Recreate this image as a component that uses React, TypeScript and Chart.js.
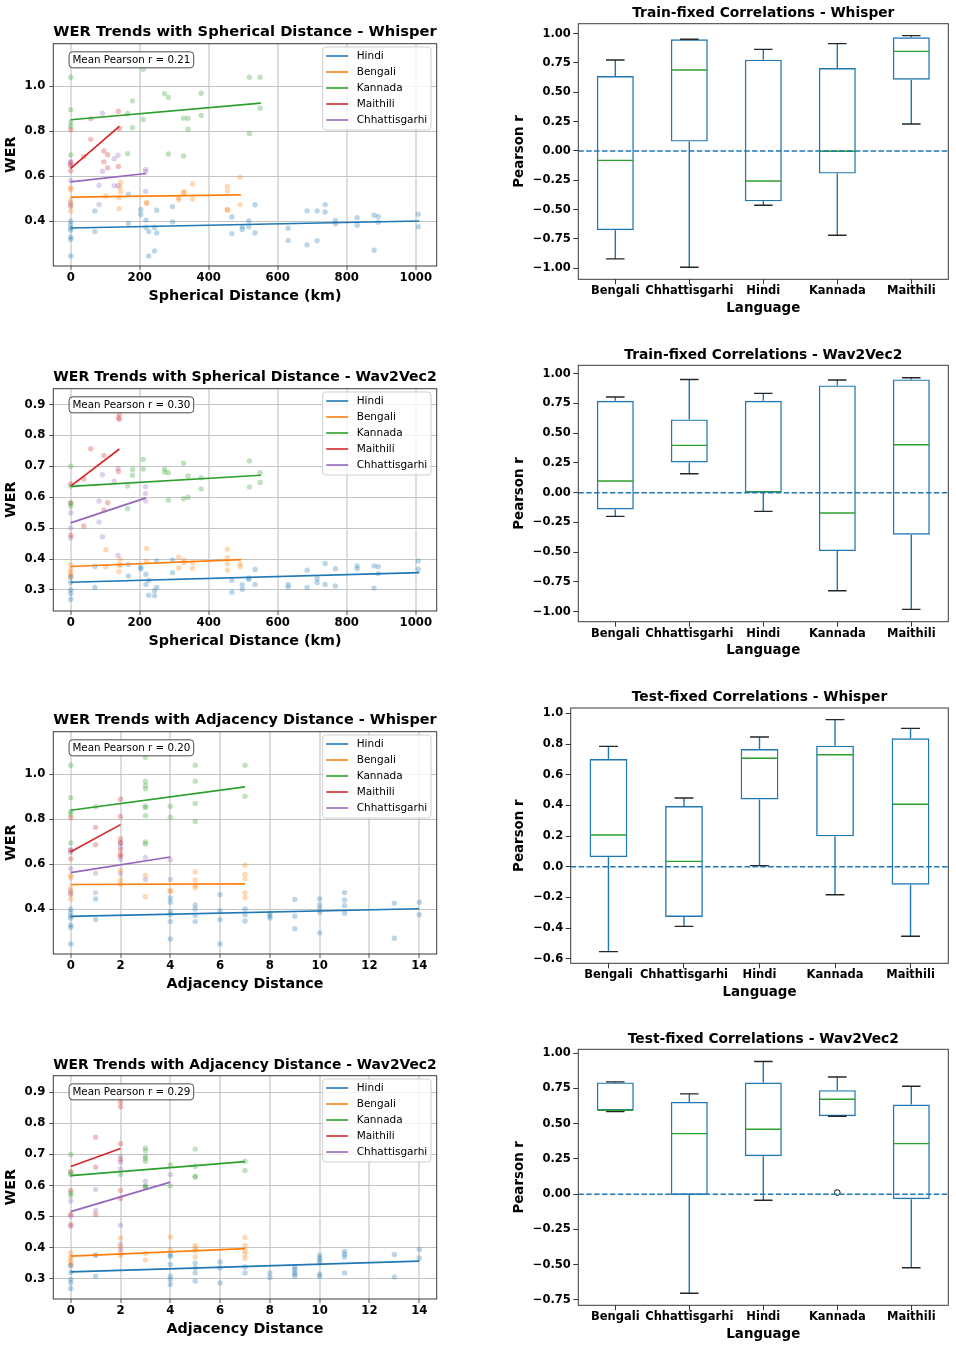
import React, { useEffect, useRef } from 'react';
import { Chart, registerables } from 'chart.js';

Chart.register(...registerables);

type Pt = [number, number];

const FONT = "'DejaVu Sans', sans-serif";

// ---------- shared labels ----------
const languages = ['Hindi', 'Bengali', 'Kannada', 'Maithili', 'Chhattisgarhi'];
const langColors = ['#1f77b4', '#ff7f0e', '#2ca02c', '#d62728', '#9467bd'];
const langColorsFaint = [
  'rgba(31,119,180,0.3)',
  'rgba(255,127,14,0.3)',
  'rgba(44,160,44,0.3)',
  'rgba(214,39,40,0.3)',
  'rgba(148,103,189,0.3)',
];
const boxCategories = ['Bengali', 'Chhattisgarhi', 'Hindi', 'Kannada', 'Maithili'];

// ---------- Spherical distance / Whisper ----------
const sphWhisperHindi: Pt[] = [[0, 0.40], [0, 0.385], [0, 0.37], [0, 0.36], [0, 0.33], [0, 0.32], [0, 0.246], [70, 0.446], [70, 0.354], [167, 0.39], [167, 0.52], [203, 0.452], [203, 0.43], [218, 0.405], [218, 0.372], [226, 0.354], [226, 0.246], [243, 0.268], [243, 0.372], [249, 0.449], [249, 0.348], [295, 0.465], [295, 0.397], [467, 0.419], [467, 0.345], [497, 0.376], [497, 0.363], [516, 0.401], [516, 0.375], [534, 0.473], [534, 0.348], [630, 0.369], [630, 0.314], [685, 0.446], [685, 0.295], [714, 0.446], [714, 0.313], [737, 0.474], [737, 0.441], [767, 0.404], [767, 0.388], [830, 0.416], [830, 0.382], [879, 0.427], [879, 0.271], [891, 0.421], [891, 0.396], [1007, 0.431], [1007, 0.376]];
const sphWhisperBengali: Pt[] = [[0, 0.55], [0, 0.54], [0, 0.492], [0, 0.471], [0, 0.446], [102, 0.512], [140, 0.456], [140, 0.505], [143, 0.55], [145, 0.572], [145, 0.53], [220, 0.483], [220, 0.479], [313, 0.505], [313, 0.495], [328, 0.53], [328, 0.528], [353, 0.566], [353, 0.499], [454, 0.555], [454, 0.535], [454, 0.452], [454, 0.449], [491, 0.596], [491, 0.474]];
const sphWhisperKannada: Pt[] = [[0, 1.04], [0, 0.896], [0, 0.84], [0, 0.822], [0, 0.695], [165, 0.879], [165, 0.70], [179, 0.935], [179, 0.816], [210, 1.075], [210, 0.852], [272, 0.967], [283, 0.95], [283, 0.699], [327, 0.858], [327, 0.69], [340, 0.858], [340, 0.809], [378, 0.969], [378, 0.87], [518, 1.04], [518, 0.79], [549, 1.04], [549, 0.902]];
const sphWhisperMaithili: Pt[] = [[0, 0.807], [0, 0.66], [0, 0.624], [0, 0.645], [38, 0.687], [58, 0.856], [58, 0.764], [96, 0.712], [96, 0.664], [107, 0.696], [107, 0.637], [138, 0.889], [141, 0.812], [138, 0.643]];
const sphWhisperChhattisgarhi: Pt[] = [[0, 0.665], [0, 0.653], [0, 0.58], [0, 0.48], [0, 0.467], [82, 0.56], [82, 0.474], [92, 0.88], [92, 0.622], [126, 0.678], [126, 0.558], [137, 0.693], [137, 0.558], [217, 0.63], [217, 0.62], [217, 0.532]];
// regression fits: [xStart, yStart, xEnd, yEnd] per language
const sphWhisperFits = [[0, 0.370, 1010, 0.401], [0, 0.507, 493, 0.517], [0, 0.851, 551, 0.925], [0, 0.635, 141, 0.822], [0, 0.575, 218, 0.612]];

// ---------- Spherical distance / Wav2Vec2 ----------
const sphW2vHindi: Pt[] = [[0, 0.342], [0, 0.324], [0, 0.30], [0, 0.289], [0, 0.27], [70, 0.376], [70, 0.308], [167, 0.382], [167, 0.345], [203, 0.374], [203, 0.368], [218, 0.351], [218, 0.318], [226, 0.331], [226, 0.283], [243, 0.297], [243, 0.281], [249, 0.394], [249, 0.308], [295, 0.397], [295, 0.356], [467, 0.331], [467, 0.293], [497, 0.317], [497, 0.302], [516, 0.339], [516, 0.334], [534, 0.366], [534, 0.318], [630, 0.318], [630, 0.309], [685, 0.364], [685, 0.308], [714, 0.337], [714, 0.324], [737, 0.386], [737, 0.318], [767, 0.369], [767, 0.313], [830, 0.378], [830, 0.369], [879, 0.378], [879, 0.306], [891, 0.375], [891, 0.353], [1007, 0.394], [1007, 0.367]];
const sphW2vBengali: Pt[] = [[0, 0.382], [0, 0.367], [0, 0.357], [0, 0.349], [0, 0.342], [102, 0.43], [102, 0.375], [140, 0.36], [140, 0.382], [143, 0.399], [143, 0.38], [220, 0.434], [220, 0.393], [313, 0.407], [313, 0.371], [328, 0.397], [328, 0.388], [353, 0.388], [353, 0.37], [454, 0.432], [454, 0.404], [454, 0.385], [454, 0.364], [491, 0.385], [491, 0.375]];
const sphW2vKannada: Pt[] = [[0, 0.70], [0, 0.58], [0, 0.571], [0, 0.636], [165, 0.636], [165, 0.563], [179, 0.69], [179, 0.671], [210, 0.722], [210, 0.691], [272, 0.691], [272, 0.681], [283, 0.679], [283, 0.59], [327, 0.71], [327, 0.595], [340, 0.668], [340, 0.60], [378, 0.663], [378, 0.627], [518, 0.717], [518, 0.633], [549, 0.679], [549, 0.648]];
const sphW2vMaithili: Pt[] = [[0, 0.644], [0, 0.582], [0, 0.477], [38, 0.659], [38, 0.507], [58, 0.757], [58, 0.884], [96, 0.735], [96, 0.559], [107, 0.582], [138, 0.857], [141, 0.868], [141, 0.852], [138, 0.683]];
const sphW2vChhattisgarhi: Pt[] = [[0, 0.55], [0, 0.501], [0, 0.468], [82, 0.588], [82, 0.52], [92, 0.673], [92, 0.472], [126, 0.652], [137, 0.693], [137, 0.412], [217, 0.634], [217, 0.612], [217, 0.588]];
const sphW2vFits = [[0, 0.325, 1010, 0.356], [0, 0.376, 493, 0.398], [0, 0.635, 551, 0.671], [0, 0.636, 141, 0.756], [0, 0.517, 218, 0.598]];

// ---------- Adjacency distance / Whisper ----------
const adjWhisperHindi: Pt[] = [[0, 0.40], [0, 0.385], [0, 0.37], [0, 0.36], [0, 0.33], [0, 0.32], [0, 0.246], [1, 0.446], [1, 0.354], [4, 0.45], [4, 0.431], [4, 0.39], [4, 0.376], [4, 0.345], [4, 0.268], [5, 0.419], [5, 0.401], [5, 0.372], [5, 0.345], [6, 0.465], [6, 0.394], [6, 0.354], [6, 0.246], [7, 0.401], [7, 0.376], [7, 0.348], [8, 0.381], [8, 0.37], [8, 0.361], [9, 0.443], [9, 0.369], [9, 0.313], [10, 0.446], [10, 0.419], [10, 0.401], [10, 0.387], [10, 0.295], [11, 0.474], [11, 0.441], [11, 0.416], [11, 0.382], [13, 0.427], [13, 0.271], [14, 0.431], [14, 0.376]];
const adjWhisperBengali: Pt[] = [[0, 0.55], [0, 0.54], [0, 0.492], [0, 0.471], [0, 0.446], [2, 0.572], [2, 0.53], [2, 0.51], [3, 0.55], [3, 0.456], [4, 0.483], [4, 0.479], [5, 0.566], [5, 0.53], [5, 0.505], [5, 0.495], [7, 0.596], [7, 0.555], [7, 0.535], [7, 0.474], [7, 0.452]];
const adjWhisperKannada: Pt[] = [[0, 1.04], [0, 0.896], [0, 0.835], [0, 0.822], [0, 0.695], [1, 0.856], [3, 1.075], [3, 0.969], [3, 0.95], [3, 0.935], [3, 0.858], [3, 0.852], [3, 0.816], [3, 0.699], [3, 0.69], [4, 0.858], [4, 0.809], [5, 1.04], [5, 0.969], [5, 0.87], [5, 0.79], [7, 1.04], [7, 0.902]];
const adjWhisperMaithili: Pt[] = [[0, 0.807], [0, 0.66], [0, 0.624], [1, 0.764], [1, 0.687], [2, 0.889], [2, 0.812], [2, 0.712], [2, 0.696], [2, 0.664], [2, 0.643], [2, 0.637]];
const adjWhisperChhattisgarhi: Pt[] = [[0, 0.665], [0, 0.653], [0, 0.58], [0, 0.48], [0, 0.467], [1, 0.56], [1, 0.474], [2, 0.678], [2, 0.693], [2, 0.622], [2, 0.558], [3, 0.63], [3, 0.532], [4, 0.62], [4, 0.532]];
const adjWhisperFits = [[0, 0.368, 14, 0.402], [0, 0.510, 7, 0.513], [0, 0.840, 7, 0.944], [0, 0.655, 2, 0.776], [0, 0.563, 4, 0.632]];

// ---------- Adjacency distance / Wav2Vec2 ----------
const adjW2vHindi: Pt[] = [[0, 0.343], [0, 0.321], [0, 0.298], [0, 0.287], [0, 0.269], [1, 0.376], [1, 0.308], [4, 0.378], [4, 0.372], [4, 0.346], [4, 0.308], [4, 0.298], [4, 0.282], [5, 0.351], [5, 0.335], [5, 0.319], [5, 0.293], [6, 0.354], [6, 0.335], [6, 0.287], [7, 0.338], [7, 0.319], [8, 0.319], [8, 0.304], [9, 0.337], [9, 0.33], [9, 0.321], [9, 0.315], [9, 0.308], [10, 0.376], [10, 0.367], [10, 0.36], [10, 0.351], [10, 0.315], [10, 0.308], [11, 0.388], [11, 0.379], [11, 0.37], [11, 0.319], [13, 0.378], [13, 0.306], [14, 0.394], [14, 0.367]];
const adjW2vBengali: Pt[] = [[0, 0.383], [0, 0.369], [0, 0.36], [0, 0.351], [0, 0.343], [1, 0.376], [2, 0.431], [2, 0.403], [2, 0.383], [2, 0.375], [3, 0.382], [3, 0.36], [4, 0.434], [4, 0.394], [5, 0.407], [5, 0.398], [5, 0.39], [5, 0.37], [7, 0.433], [7, 0.407], [7, 0.39], [7, 0.38], [7, 0.366]];
const adjW2vKannada: Pt[] = [[0, 0.70], [0, 0.64], [0, 0.635], [0, 0.576], [0, 0.568], [2, 0.635], [3, 0.721], [3, 0.712], [3, 0.694], [3, 0.687], [3, 0.678], [3, 0.598], [3, 0.594], [4, 0.666], [4, 0.598], [5, 0.717], [5, 0.662], [5, 0.63], [5, 0.627], [7, 0.678], [7, 0.648]];
const adjW2vMaithili: Pt[] = [[0, 0.645], [0, 0.584], [0, 0.507], [0, 0.474], [1, 0.755], [1, 0.659], [1, 0.507], [2, 0.884], [2, 0.868], [2, 0.853], [2, 0.734], [2, 0.683], [2, 0.584], [2, 0.558]];
const adjW2vChhattisgarhi: Pt[] = [[0, 0.55], [0, 0.501], [0, 0.469], [1, 0.587], [1, 0.52], [2, 0.694], [2, 0.675], [2, 0.653], [2, 0.472], [2, 0.411], [2, 0.394], [3, 0.614], [3, 0.598], [4, 0.635]];
const adjW2vFits = [[0, 0.322, 14, 0.357], [0, 0.373, 7, 0.397], [0, 0.632, 7, 0.677], [0, 0.661, 2, 0.719], [0, 0.516, 4, 0.611]];

// ---------- Box plot statistics (order: boxCategories) ----------
const trainWhisperLow = [-0.920, -0.991, -0.463, -0.719, 0.230];
const trainWhisperQ1 = [-0.676, 0.080, -0.429, -0.193, 0.608];
const trainWhisperMedian = [-0.080, 0.690, -0.256, -0.003, 0.849];
const trainWhisperQ3 = [0.639, 0.952, 0.778, 0.707, 0.969];
const trainWhisperHigh = [0.776, 0.952, 0.866, 0.915, 0.983];

const trainW2vLow = [-0.199, 0.160, -0.157, -0.824, -0.980];
const trainW2vQ1 = [-0.140, 0.255, 0.003, -0.490, -0.353];
const trainW2vMedian = [0.098, 0.398, 0.006, -0.171, 0.403];
const trainW2vQ3 = [0.773, 0.616, 0.773, 0.902, 0.952];
const trainW2vHigh = [0.804, 0.952, 0.835, 0.947, 0.966];

const testWhisperLow = [-0.554, -0.389, 0.007, -0.183, -0.454];
const testWhisperQ1 = [0.063, -0.328, 0.439, 0.198, -0.117];
const testWhisperMedian = [0.207, 0.035, 0.707, 0.730, 0.407];
const testWhisperQ3 = [0.702, 0.396, 0.767, 0.789, 0.837];
const testWhisperHigh = [0.785, 0.448, 0.846, 0.959, 0.902];

const testW2vLow = [0.587, -0.702, -0.043, 0.553, -0.522];
const testW2vQ1 = [0.594, -0.005, 0.270, 0.553, -0.035];
const testW2vMedian = [0.596, 0.430, 0.461, 0.674, 0.359];
const testW2vQ3 = [0.793, 0.655, 0.792, 0.738, 0.636];
const testW2vHigh = [0.797, 0.712, 0.941, 0.832, 0.766];
const testW2vOutliers: Pt[] = [[3, 0.012]]; // [category index, value]

// ---------- helpers ----------
const fmt = (v: number, d: number) => (v < -1e-9 ? '\u2212' : '') + Math.abs(v).toFixed(d);

type Geo = { plotL: number; plotR: number; plotT: number; plotB: number; titleY: number };

const DY = 1; // global vertical nudge

function frame(side: 'left' | 'right', g0: Geo, yTitleX: number) {
  const g = { ...g0, plotT: g0.plotT + DY, plotB: g0.plotB + DY, titleY: g0.titleY + DY };
  const isLeft = side === 'left';
  const titleSize = isLeft ? 14.7 : 13.8;
  const axisSize = isLeft ? 14.3 : 13.4;
  const tickSize = isLeft ? 11.7 : 11.5;
  const titleLH = titleSize * 1.2;
  const axisLH = axisSize * 1.2;
  const cx = isLeft ? 0 : 500;
  const cw = isLeft ? 445 : 456;
  const cy = Math.floor(g.titleY - titleLH / 2 - 2);
  const below = isLeft ? 45 : 40;
  const ch = Math.min(Math.ceil(g.plotB + below - cy), 1347 - cy);
  const xTitleY = g.plotB + (isLeft ? 30 : 29);
  return {
    rect: { x: cx, y: cy, w: cw, h: ch },
    titlePad: { top: g.titleY - titleLH / 2 - cy, bottom: g.plotT - g.titleY - titleLH / 2 },
    padRight: cx + cw - g.plotR,
    yWidth: g.plotL - cx,
    xHeight: cy + ch - g.plotB,
    xTitlePad: Math.max(0, cy + ch - xTitleY - axisLH / 2),
    yTitlePad: yTitleX - cx - axisLH / 2,
    titleSize,
    axisSize,
    tickSize,
  };
}

const framePlugin = {
  id: 'axesFrame',
  afterDraw(chart: any) {
    const { ctx, chartArea: a } = chart;
    ctx.save();
    ctx.strokeStyle = '#3a3a3a';
    ctx.lineWidth = 1;
    ctx.strokeRect(a.left, a.top, a.right - a.left, a.bottom - a.top);
    ctx.restore();
  },
};

const innerLegendPlugin = {
  id: 'innerLegend',
  afterDraw(chart: any) {
    const { ctx, chartArea: a } = chart;
    const items = chart.data.datasets.filter((d: any) => d.showLine);
    const bx = a.right - 114;
    const by = a.top + 3.3;
    const bw = 108.3;
    const bh = 83;
    ctx.save();
    ctx.beginPath();
    ctx.roundRect(bx, by, bw, bh, 3);
    ctx.fillStyle = 'rgba(255,255,255,0.8)';
    ctx.fill();
    ctx.strokeStyle = '#cfcfcf';
    ctx.lineWidth = 1;
    ctx.stroke();
    ctx.font = `10.5px ${FONT}`;
    ctx.textBaseline = 'middle';
    ctx.textAlign = 'left';
    items.forEach((d: any, i: number) => {
      const y = by + 9 + i * 16;
      ctx.beginPath();
      ctx.strokeStyle = d.borderColor;
      ctx.lineWidth = 1.6;
      ctx.moveTo(bx + 3.5, y);
      ctx.lineTo(bx + 25.5, y);
      ctx.stroke();
      ctx.fillStyle = '#000';
      ctx.fillText(d.label, bx + 34, y + 0.5);
    });
    ctx.restore();
  },
};

function meanPlugin(text: string) {
  return {
    id: 'meanBox',
    afterDraw(chart: any) {
      const { ctx, chartArea: a } = chart;
      const tx = a.left + 0.05 * (a.right - a.left);
      const ty = a.top + 0.05 * (a.bottom - a.top);
      ctx.save();
      ctx.font = `10.3px ${FONT}`;
      const w = ctx.measureText(text).width;
      ctx.beginPath();
      ctx.roundRect(tx - 3.4, ty - 3, w + 6.8, 16, 3.5);
      ctx.fillStyle = 'rgba(255,255,255,0.85)';
      ctx.fill();
      ctx.strokeStyle = '#4a4a4a';
      ctx.lineWidth = 1;
      ctx.stroke();
      ctx.fillStyle = '#000';
      ctx.textBaseline = 'middle';
      ctx.textAlign = 'left';
      ctx.fillText(text, tx, ty + 5.3);
      ctx.restore();
    },
  };
}

function boxPartsPlugin(low: number[], median: number[], high: number[], outliers: Pt[]) {
  return {
    id: 'boxParts',
    afterDatasetsDraw(chart: any) {
      const { ctx, chartArea: a, scales } = chart;
      const xs = scales.x;
      const ys = scales.y;
      const bars = chart.getDatasetMeta(0).data;
      const boxes = chart.data.datasets[0].data;
      ctx.save();
      bars.forEach((bar: any, i: number) => {
        const cx = xs.getPixelForValue(i);
        const half = bar.width / 2;
        const [q1, q3] = boxes[i];
        const yLow = ys.getPixelForValue(low[i]);
        const yHigh = ys.getPixelForValue(high[i]);
        const yQ1 = ys.getPixelForValue(q1);
        const yQ3 = ys.getPixelForValue(q3);
        const yMed = ys.getPixelForValue(median[i]);
        ctx.strokeStyle = '#1f77b4';
        ctx.lineWidth = 1.4;
        ctx.beginPath();
        ctx.moveTo(cx, yQ3);
        ctx.lineTo(cx, yHigh);
        ctx.moveTo(cx, yQ1);
        ctx.lineTo(cx, yLow);
        ctx.stroke();
        ctx.strokeStyle = '#262626';
        ctx.beginPath();
        ctx.moveTo(cx - half / 2, yHigh);
        ctx.lineTo(cx + half / 2, yHigh);
        ctx.moveTo(cx - half / 2, yLow);
        ctx.lineTo(cx + half / 2, yLow);
        ctx.stroke();
        ctx.strokeStyle = '#2ca02c';
        ctx.beginPath();
        ctx.moveTo(cx - half + 0.7, yMed);
        ctx.lineTo(cx + half - 0.7, yMed);
        ctx.stroke();
      });
      outliers.forEach(([ci, v]) => {
        ctx.beginPath();
        ctx.strokeStyle = '#000';
        ctx.lineWidth = 1;
        ctx.arc(xs.getPixelForValue(ci), ys.getPixelForValue(v), 2.8, 0, Math.PI * 2);
        ctx.stroke();
      });
      const y0 = ys.getPixelForValue(0);
      ctx.beginPath();
      ctx.setLineDash([5.5, 2.4]);
      ctx.strokeStyle = '#1f77b4';
      ctx.lineWidth = 1.4;
      ctx.moveTo(a.left, y0);
      ctx.lineTo(a.right, y0);
      ctx.stroke();
      ctx.restore();
    },
  };
}

type ScatterSpec = {
  title: string;
  xTitle: string;
  points: Pt[][];
  fits: number[][];
  mean: string;
  xMin: number;
  xMax: number;
  xStep: number;
  yMin: number;
  yMax: number;
  yStep: number;
  yDec: number;
  geo: Geo;
};

function scatterChart(s: ScatterSpec) {
  const f = frame('left', s.geo, 11.7);
  const datasets: any[] = [
    ...languages.map((lang, i) => ({
      type: 'scatter',
      label: lang,
      showLine: true,
      data: [
        { x: s.fits[i][0], y: s.fits[i][1] },
        { x: s.fits[i][2], y: s.fits[i][3] },
      ],
      borderColor: langColors[i],
      backgroundColor: langColors[i],
      borderWidth: 1.7,
      pointRadius: 0,
    })),
    ...languages.map((lang, i) => ({
      type: 'scatter',
      label: lang + ' samples',
      showLine: false,
      data: s.points[i].map(([x, y]) => ({ x, y })),
      backgroundColor: langColorsFaint[i],
      borderColor: 'rgba(0,0,0,0)',
      borderWidth: 0,
      pointRadius: 2.7,
    })),
  ];
  const tickFont = { family: FONT, size: f.tickSize, weight: 'bold' as const };
  const axisFont = { family: FONT, size: f.axisSize, weight: 'bold' as const };
  const config: any = {
    type: 'scatter',
    data: { datasets },
    options: {
      responsive: false,
      animation: false,
      devicePixelRatio: 1,
      events: [],
      layout: { padding: { left: 0, right: f.padRight, top: 0, bottom: 0 } },
      plugins: {
        legend: { display: false },
        tooltip: { enabled: false },
        title: {
          display: true,
          text: s.title,
          color: '#000',
          fullSize: false,
          font: { family: FONT, size: f.titleSize, weight: 'bold' },
          padding: f.titlePad,
        },
      },
      scales: {
        x: {
          type: 'linear',
          min: s.xMin,
          max: s.xMax,
          border: { display: false },
          grid: { color: '#dddddd', lineWidth: 2, tickColor: '#555', tickWidth: 1, tickLength: 4 },
          ticks: {
            stepSize: s.xStep,
            includeBounds: false,
            color: '#000',
            font: tickFont,
            padding: 1,
            maxRotation: 0,
            callback: (v: number) => fmt(v, 0),
          },
          title: { display: true, text: s.xTitle, color: '#000', font: axisFont, padding: { top: 0, bottom: f.xTitlePad } },
          afterFit: (sc: any) => { sc.height = f.xHeight; },
        },
        y: {
          type: 'linear',
          min: s.yMin,
          max: s.yMax,
          border: { display: false },
          grid: { color: '#c4c4c4', lineWidth: 1, tickColor: '#555', tickLength: 4 },
          ticks: {
            stepSize: s.yStep,
            includeBounds: false,
            color: '#000',
            font: tickFont,
            padding: 4,
            callback: (v: number) => fmt(v, s.yDec),
          },
          title: { display: true, text: 'WER', color: '#000', font: axisFont, padding: { top: f.yTitlePad, bottom: 0 } },
          afterFit: (sc: any) => { sc.width = f.yWidth; },
        },
      },
    },
    plugins: [framePlugin, innerLegendPlugin, meanPlugin(s.mean)],
  };
  return { rect: f.rect, config };
}

type BoxSpec = {
  title: string;
  low: number[];
  q1: number[];
  median: number[];
  q3: number[];
  high: number[];
  outliers: Pt[];
  yMin: number;
  yMax: number;
  yStep: number;
  yDec: number;
  geo: Geo;
  yTitleX: number;
};

function boxChart(s: BoxSpec) {
  const f = frame('right', s.geo, s.yTitleX);
  const tickFont = { family: FONT, size: f.tickSize, weight: 'bold' as const };
  const axisFont = { family: FONT, size: f.axisSize, weight: 'bold' as const };
  const config: any = {
    type: 'bar',
    data: {
      labels: boxCategories,
      datasets: [
        {
          label: 'Pearson r',
          data: s.q1.map((q, i) => [q, s.q3[i]]),
          backgroundColor: 'rgba(0,0,0,0)',
          borderColor: '#1f77b4',
          borderWidth: 1.4,
          borderSkipped: false,
          barPercentage: 0.5,
          categoryPercentage: 1,
        },
      ],
    },
    options: {
      responsive: false,
      animation: false,
      devicePixelRatio: 1,
      events: [],
      layout: { padding: { left: 0, right: f.padRight, top: 0, bottom: 0 } },
      plugins: {
        legend: { display: false },
        tooltip: { enabled: false },
        title: {
          display: true,
          text: s.title,
          color: '#000',
          fullSize: false,
          font: { family: FONT, size: f.titleSize, weight: 'bold' },
          padding: f.titlePad,
        },
      },
      scales: {
        x: {
          type: 'category',
          border: { display: false },
          grid: { offset: false, drawOnChartArea: false, tickColor: '#333', tickLength: 5 },
          ticks: { color: '#000', font: tickFont, padding: 0, maxRotation: 0, autoSkip: false },
          title: { display: true, text: 'Language', color: '#000', font: axisFont, padding: { top: 0, bottom: f.xTitlePad } },
          afterFit: (sc: any) => { sc.height = f.xHeight; },
        },
        y: {
          type: 'linear',
          min: s.yMin,
          max: s.yMax,
          border: { display: false },
          grid: { drawOnChartArea: false, tickColor: '#333', tickLength: 5 },
          ticks: {
            stepSize: s.yStep,
            includeBounds: false,
            color: '#000',
            font: tickFont,
            padding: 2.5,
            callback: (v: number) => fmt(v, s.yDec),
          },
          title: { display: true, text: 'Pearson r', color: '#000', font: axisFont, padding: { top: f.yTitlePad, bottom: 0 } },
          afterFit: (sc: any) => { sc.width = f.yWidth; },
        },
      },
    },
    plugins: [boxPartsPlugin(s.low, s.median, s.high, s.outliers), framePlugin],
  };
  return { rect: f.rect, config };
}

// ---------- panel definitions ----------
const panels: (() => { rect: any; config: any })[] = [
  () => scatterChart({
    title: 'WER Trends with Spherical Distance - Whisper',
    xTitle: 'Spherical Distance (km)',
    points: [sphWhisperHindi, sphWhisperBengali, sphWhisperKannada, sphWhisperMaithili, sphWhisperChhattisgarhi],
    fits: sphWhisperFits,
    mean: 'Mean Pearson r = 0.21',
    xMin: -50.5, xMax: 1060.5, xStep: 200,
    yMin: 0.201, yMax: 1.189, yStep: 0.2, yDec: 1,
    geo: { plotL: 53.3, plotR: 436.7, plotT: 42.7, plotB: 265, titleY: 31 },
  }),
  () => scatterChart({
    title: 'WER Trends with Spherical Distance - Wav2Vec2',
    xTitle: 'Spherical Distance (km)',
    points: [sphW2vHindi, sphW2vBengali, sphW2vKannada, sphW2vMaithili, sphW2vChhattisgarhi],
    fits: sphW2vFits,
    mean: 'Mean Pearson r = 0.30',
    xMin: -50.5, xMax: 1060.5, xStep: 200,
    yMin: 0.232, yMax: 0.951, yStep: 0.1, yDec: 1,
    geo: { plotL: 53.3, plotR: 436.7, plotT: 387.7, plotB: 610, titleY: 376 },
  }),
  () => scatterChart({
    title: 'WER Trends with Adjacency Distance - Whisper',
    xTitle: 'Adjacency Distance',
    points: [adjWhisperHindi, adjWhisperBengali, adjWhisperKannada, adjWhisperMaithili, adjWhisperChhattisgarhi],
    fits: adjWhisperFits,
    mean: 'Mean Pearson r = 0.20',
    xMin: -0.7, xMax: 14.7, xStep: 2,
    yMin: 0.201, yMax: 1.189, yStep: 0.2, yDec: 1,
    geo: { plotL: 53.3, plotR: 436.7, plotT: 730.7, plotB: 953, titleY: 719 },
  }),
  () => scatterChart({
    title: 'WER Trends with Adjacency Distance - Wav2Vec2',
    xTitle: 'Adjacency Distance',
    points: [adjW2vHindi, adjW2vBengali, adjW2vKannada, adjW2vMaithili, adjW2vChhattisgarhi],
    fits: adjW2vFits,
    mean: 'Mean Pearson r = 0.29',
    xMin: -0.7, xMax: 14.7, xStep: 2,
    yMin: 0.235, yMax: 0.953, yStep: 0.1, yDec: 1,
    geo: { plotL: 53.3, plotR: 436.7, plotT: 1074.7, plotB: 1298, titleY: 1063.7 },
  }),
  () => boxChart({
    title: 'Train-fixed Correlations - Whisper',
    low: trainWhisperLow, q1: trainWhisperQ1, median: trainWhisperMedian, q3: trainWhisperQ3, high: trainWhisperHigh,
    outliers: [],
    yMin: -1.094, yMax: 1.085, yStep: 0.25, yDec: 2,
    geo: { plotL: 578.3, plotR: 948.3, plotT: 22.7, plotB: 278.3, titleY: 12 },
    yTitleX: 520,
  }),
  () => boxChart({
    title: 'Train-fixed Correlations - Wav2Vec2',
    low: trainW2vLow, q1: trainW2vQ1, median: trainW2vMedian, q3: trainW2vQ3, high: trainW2vHigh,
    outliers: [],
    yMin: -1.084, yMax: 1.071, yStep: 0.25, yDec: 2,
    geo: { plotL: 578.3, plotR: 948.3, plotT: 364.3, plotB: 620.7, titleY: 354.3 },
    yTitleX: 520,
  }),
  () => boxChart({
    title: 'Test-fixed Correlations - Whisper',
    low: testWhisperLow, q1: testWhisperQ1, median: testWhisperMedian, q3: testWhisperQ3, high: testWhisperHigh,
    outliers: [],
    yMin: -0.63, yMax: 1.035, yStep: 0.2, yDec: 1,
    geo: { plotL: 570.7, plotR: 948.3, plotT: 707, plotB: 962.3, titleY: 696 },
    yTitleX: 519.3,
  }),
  () => boxChart({
    title: 'Test-fixed Correlations - Wav2Vec2',
    low: testW2vLow, q1: testW2vQ1, median: testW2vMedian, q3: testW2vQ3, high: testW2vHigh,
    outliers: testW2vOutliers,
    yMin: -0.788, yMax: 1.028, yStep: 0.25, yDec: 2,
    geo: { plotL: 578.3, plotR: 948.3, plotT: 1048.3, plotB: 1304.3, titleY: 1038.3 },
    yTitleX: 520,
  }),
];

function Panel({ make }: { make: () => { rect: any; config: any } }) {
  const ref = useRef<HTMLCanvasElement>(null);
  const { rect } = make();
  useEffect(() => {
    const { config } = make();
    const chart = new Chart(ref.current as HTMLCanvasElement, config);
    return () => chart.destroy();
  }, [make]);
  return (
    <canvas
      ref={ref}
      width={rect.w}
      height={rect.h}
      style={{ position: 'absolute', left: rect.x, top: rect.y, width: rect.w, height: rect.h, display: 'block' }}
    />
  );
}

export default function App() {
  Chart.defaults.font.family = FONT;
  Chart.defaults.color = '#000';
  return (
    <div
      style={{
        position: 'absolute',
        left: 0,
        top: 0,
        width: 956,
        height: 1348,
        overflow: 'hidden',
        background: '#fff',
      }}
    >
      {panels.map((p, i) => (
        <Panel key={i} make={p} />
      ))}
    </div>
  );
}
